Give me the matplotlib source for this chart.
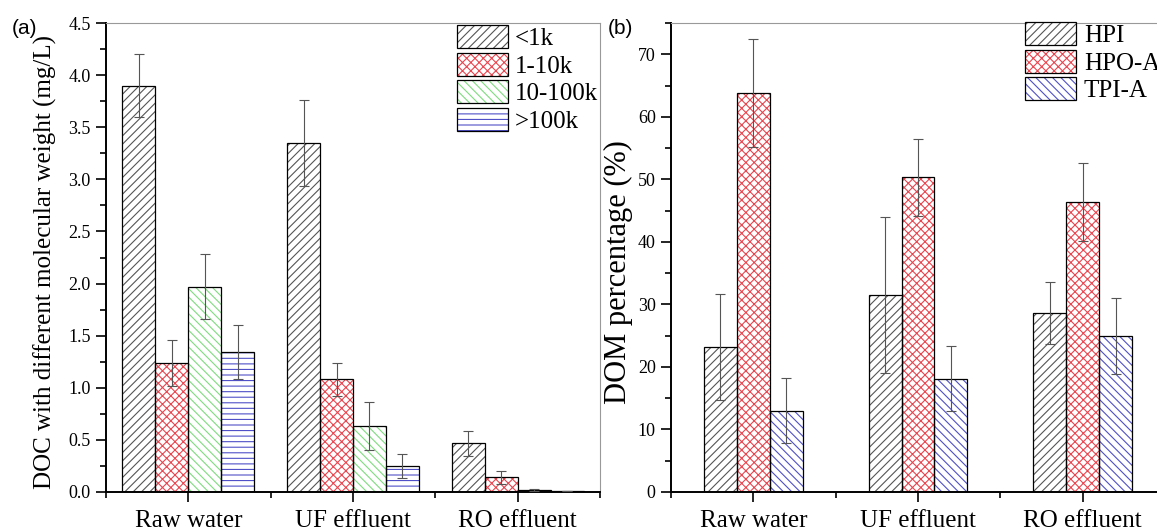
import matplotlib
matplotlib.use("Agg")

import matplotlib.pyplot as plt
from matplotlib.patches import Patch
from matplotlib.ticker import MultipleLocator, FixedLocator, FormatStrFormatter
import numpy as np

# categories shared by both panels
samples = ["Raw water", "UF effluent", "RO effluent"]

# (a) DOC by molecular weight (mg/L)
mw_labels = ["<1k", "1-10k", "10-100k", ">100k"]
mw_lt1k = [3.90, 3.35, 0.47]
mw_1_10k = [1.24, 1.08, 0.14]
mw_10_100k = [1.97, 0.63, 0.02]
mw_gt100k = [1.34, 0.25, 0.005]
mw_lt1k_err = [0.30, 0.41, 0.12]
mw_1_10k_err = [0.22, 0.155, 0.06]
mw_10_100k_err = [0.31, 0.23, 0.008]
mw_gt100k_err = [0.26, 0.115, 0.0]

# (b) DOM fractions (%)
frac_labels = ["HPI", "HPO-A", "TPI-A"]
hpi = [23.2, 31.5, 28.6]
hpo_a = [63.8, 50.3, 46.4]
tpi_a = [13.0, 18.1, 24.9]
hpi_err = [8.5, 12.5, 5.0]
hpo_a_err = [8.6, 6.2, 6.2]
tpi_a_err = [5.2, 5.2, 6.1]

plt.rcParams['font.family'] = ['Liberation Serif', 'DejaVu Serif']
plt.rcParams['hatch.linewidth'] = 0.8

BLACK_H = '#555555'
RED_H = '#e8454f'
GREEN_H = '#7fdc7f'
BLUE_H = '#5050c8'
ERR_C = '#555555'


def hatched_bars(ax, x, vals, errs, width, hcol, hatch):
    ax.bar(x, vals, width, color='white', edgecolor=hcol, hatch=hatch, linewidth=0, zorder=2)
    ax.bar(x, vals, width, fill=False, edgecolor='black', linewidth=0.9, zorder=3)
    ax.errorbar(x, vals, yerr=errs, fmt='none', ecolor=ERR_C, elinewidth=0.8,
                capsize=3.5, capthick=0.8, zorder=4)
    h1 = Patch(facecolor='white', edgecolor=hcol, hatch=hatch, linewidth=0)
    h2 = Patch(fill=False, edgecolor='black', linewidth=0.9)
    return (h1, h2)


def style_axes(ax):
    for s in ['top', 'right']:
        ax.spines[s].set_color('#999999')
        ax.spines[s].set_linewidth(0.8)
    for s in ['left', 'bottom']:
        ax.spines[s].set_linewidth(1.4)
    ax.tick_params(which='both', direction='out', top=False, right=False, width=1.2)
    ax.tick_params(which='major', length=7)
    ax.tick_params(which='minor', length=4.5)
    ax.tick_params(axis='y', labelsize=13, pad=4)
    ax.tick_params(axis='x', labelsize=18, pad=6)
    ax.set_xlim(0.5, 3.5)
    ax.set_xticks([1, 2, 3])
    ax.set_xticklabels(samples)
    ax.xaxis.set_minor_locator(FixedLocator([0.5, 1.5, 2.5, 3.5]))


def add_legend(ax, handles, labels, x0, y0):
    ax.legend(handles, labels, loc='upper left', bbox_to_anchor=(x0 / 1157, 1 - y0 / 531),
              bbox_transform=fig.transFigure, frameon=False, fontsize=18, borderpad=0,
              handlelength=2.05, handleheight=1.05, labelspacing=0.1, handletextpad=0.3,
              borderaxespad=0)


fig = plt.figure(figsize=(11.57, 5.31), dpi=100)
ax1 = fig.add_axes([106 / 1157, 39 / 531, 494 / 1157, 469 / 531])
ax2 = fig.add_axes([671 / 1157, 39 / 531, 494 / 1157, 469 / 531])

x = np.arange(1, 4)
w = 0.2

# panel (a)
handles_a = []
series_a = [(mw_lt1k, mw_lt1k_err, BLACK_H, '////'),
            (mw_1_10k, mw_1_10k_err, RED_H, 'xxxx'),
            (mw_10_100k, mw_10_100k_err, GREEN_H, '\\\\\\\\'),
            (mw_gt100k, mw_gt100k_err, BLUE_H, '---')]
for i, (v, e, c, h) in enumerate(series_a):
    handles_a.append(hatched_bars(ax1, x + (i - 1.5) * w, v, e, w, c, h))
style_axes(ax1)
ax1.set_ylim(0, 4.5)
ax1.yaxis.set_major_locator(MultipleLocator(0.5))
ax1.yaxis.set_minor_locator(MultipleLocator(0.25))
ax1.yaxis.set_major_formatter(FormatStrFormatter('%.1f'))
ax1.set_ylabel("DOC with different molecular weight (mg/L)", fontsize=18)
ax1.yaxis.set_label_coords(-0.1, 0.49)
add_legend(ax1, handles_a, mw_labels, 456.5, 25)

# panel (b)
handles_b = []
series_b = [(hpi, hpi_err, BLACK_H, '////'),
            (hpo_a, hpo_a_err, RED_H, 'xxxx'),
            (tpi_a, tpi_a_err, BLUE_H, '\\\\\\\\')]
for i, (v, e, c, h) in enumerate(series_b):
    handles_b.append(hatched_bars(ax2, x + (i - 1) * w, v, e, w, c, h))
style_axes(ax2)
ax2.set_ylim(0, 75)
ax2.yaxis.set_major_locator(MultipleLocator(10))
ax2.yaxis.set_minor_locator(MultipleLocator(5))
ax2.set_ylabel("DOM percentage (%)", fontsize=22)
ax2.yaxis.set_label_coords(-0.077, 0.469)
add_legend(ax2, handles_b, frac_labels, 1025, 22)

fig.text(12 / 1157, 1 - 28 / 531, "(a)", fontsize=15, family='Liberation Sans', va='center')
fig.text(608 / 1157, 1 - 28 / 531, "(b)", fontsize=15, family='Liberation Sans', va='center')

fig.savefig("out.png", dpi=100)
